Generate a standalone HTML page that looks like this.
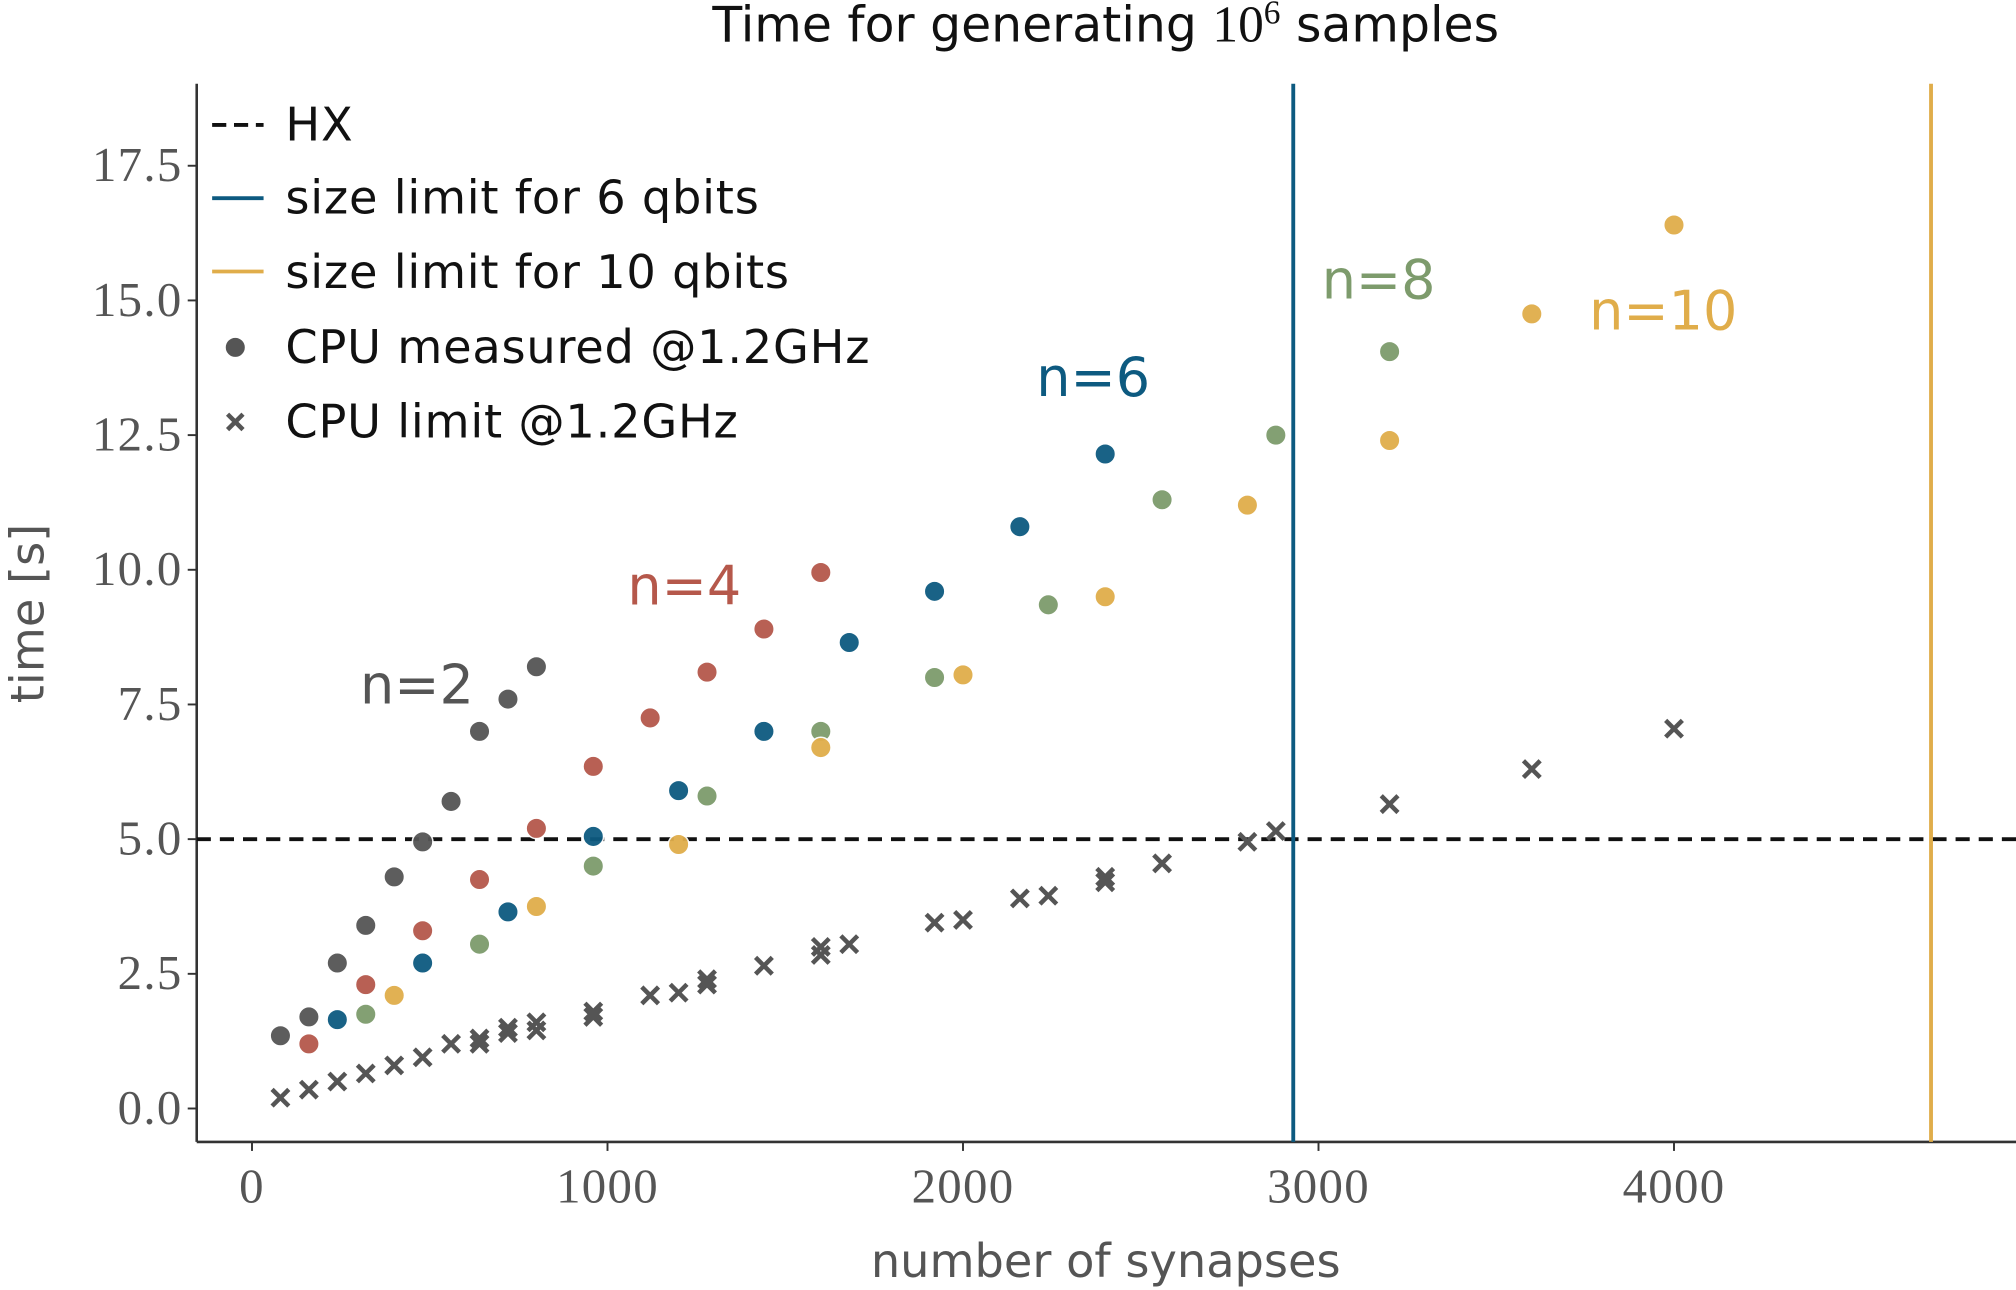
<!DOCTYPE html>
<html><head><meta charset="utf-8">
<style>
html,body{margin:0;padding:0;background:#fff;}
svg{display:block;}
.tick{font-family:"Liberation Serif",serif;font-size:38px;fill:#555;letter-spacing:1px;}
.lab{font-family:"DejaVu Sans","Liberation Sans",sans-serif;font-size:36px;fill:#555;}
.leg{font-family:"DejaVu Sans","Liberation Sans",sans-serif;font-size:36px;fill:#111;letter-spacing:0.6px;}
</style></head>
<body>
<svg id="chart" width="2016" height="1290" viewBox="0 0 1568 1003" xmlns="http://www.w3.org/2000/svg">
<g id="plot"></g>
</svg>
<script>
const xTicks=[0,1000,2000,3000,4000];
const yTicks=[0,2.5,5,7.5,10,12.5,15,17.5];
const yTickLabels=["0.0","2.5","5.0","7.5","10.0","12.5","15.0","17.5"];
const x2=[80,160,240,320,400,480,560,640,720,800];
const y2=[1.35,1.7,2.7,3.4,4.3,4.95,5.7,7.0,7.6,8.2];
const x4=[160,320,480,640,800,960,1120,1280,1440,1600];
const y4=[1.2,2.3,3.3,4.25,5.2,6.35,7.25,8.1,8.9,9.95];
const x6=[240,480,720,960,1200,1440,1680,1920,2160,2400];
const y6=[1.65,2.7,3.65,5.05,5.9,7.0,8.65,9.6,10.8,12.15];
const x8=[320,640,960,1280,1600,1920,2240,2560,2880,3200];
const y8=[1.75,3.05,4.5,5.8,7.0,8.0,9.35,11.3,12.5,14.05];
const x10=[400,800,1200,1600,2000,2400,2800,3200,3600,4000];
const y10=[2.1,3.75,4.9,6.7,8.05,9.5,11.2,12.4,14.75,16.4];
const xLim=[80,160,240,320,400,480,560,640,640,720,720,800,800,960,960,1120,1200,1280,1280,1440,1600,1600,1680,1920,2000,2160,2240,2400,2400,2560,2800,2880,3200,3600,4000];
const yLim=[0.2,0.35,0.5,0.65,0.8,0.95,1.2,1.2,1.3,1.4,1.5,1.45,1.6,1.7,1.8,2.1,2.15,2.3,2.4,2.65,2.85,3.0,3.05,3.45,3.5,3.9,3.95,4.2,4.3,4.55,4.95,5.15,5.65,6.3,7.05];
const hxLevel=5.0;
const limit6=2929, limit10=4723;

const X=v=>196+v*0.2765;
const Y=v=>862-v*41.9;
const NS="http://www.w3.org/2000/svg";
const g=document.getElementById('plot');
function mk(tag,attrs,parent){const e=document.createElementNS(NS,tag);for(const k in attrs)e.setAttribute(k,attrs[k]);(parent||g).appendChild(e);return e;}
function txt(s,attrs){const e=mk('text',attrs);e.textContent=s;return e;}

let e=mk('line',{x1:153,y1:65,x2:153,y2:888,stroke:'#333','stroke-width':2});


e=mk('line',{x1:153,y1:888,x2:1568,y2:888,stroke:'#333','stroke-width':2});


xTicks.forEach(v=>{
  mk('line',{x1:X(v),y1:888,x2:X(v),y2:895,stroke:'#333','stroke-width':1.5});
  e=txt(String(v),{x:X(v),y:935,'text-anchor':'middle',class:'tick'});
  
  
});
yTicks.forEach((v,i)=>{
  mk('line',{x1:146,y1:Y(v),x2:153,y2:Y(v),stroke:'#333','stroke-width':1.5});
  e=txt(yTickLabels[i],{x:142,y:Y(v)+12,'text-anchor':'end',class:'tick'});
  
  
});
e=txt('number of synapses',{x:860,y:993,'text-anchor':'middle',class:'lab'});


e=txt('time [s]',{x:0,y:0,'text-anchor':'middle',class:'lab',transform:'translate(34,477) rotate(-90)'});


e=mk('text',{x:860,y:32,'text-anchor':'middle',class:'lab',style:'fill:#111;font-size:38px'});
e.innerHTML='Time for generating <tspan font-family="Liberation Serif" font-size="40">10</tspan><tspan font-family="Liberation Serif" font-size="26" dy="-14">6</tspan><tspan dy="14"> samples</tspan>';



e=mk('line',{x1:153,y1:Y(hxLevel),x2:1568,y2:Y(hxLevel),stroke:'#111','stroke-width':3,'stroke-dasharray':'11,7'});


e=mk('line',{x1:X(limit6),y1:65,x2:X(limit6),y2:888,stroke:'#0d5a80','stroke-width':3});


e=mk('line',{x1:X(limit10),y1:65,x2:X(limit10),y2:888,stroke:'#e0ad4a','stroke-width':3});



xLim.forEach((v,i)=>{
  const cx=X(v),cy=Y(yLim[i]),s=6.5;
  const p=mk('path',{d:`M${cx-s},${cy-s}L${cx+s},${cy+s}M${cx-s},${cy+s}L${cx+s},${cy-s}`,stroke:'#555','stroke-width':3.5});
  
  
});
const series=[[x2,y2,'#555555','n2'],[x4,y4,'#b5584b','n4'],[x6,y6,'#0d5a80','n6'],[x8,y8,'#7d9b6c','n8'],[x10,y10,'#e0ad4a','n10']];
series.forEach(([xs,ys,c,n])=>{
  xs.forEach((v,i)=>{
    const ci=mk('circle',{cx:X(v),cy:Y(ys[i]),r:8,fill:c,stroke:'#fff','stroke-width':1.2,opacity:0.95});
    
    
  });
});
[['n=2',280,547,'#555'],['n=4',488,470,'#b5584b'],['n=6',806,308,'#0d5a80'],['n=8',1028,232,'#7d9b6c'],['n=10',1236,256,'#e0ad4a']].forEach(a=>{
  const t=txt(a[0],{x:a[1],y:a[2],class:'lab',style:'font-size:42px;fill:'+a[3]});
  
  
});
const lg=mk('g',{});


mk('line',{x1:165,y1:97,x2:205,y2:97,stroke:'#111','stroke-width':3,'stroke-dasharray':'11,6'},lg);
mk('line',{x1:165,y1:154,x2:205,y2:154,stroke:'#0d5a80','stroke-width':3},lg);
mk('line',{x1:165,y1:211,x2:205,y2:211,stroke:'#e0ad4a','stroke-width':3},lg);
mk('circle',{cx:183,cy:270,r:8,fill:'#555',stroke:'#fff','stroke-width':1.2},lg);
mk('path',{d:'M177,322L189,334M177,334L189,322',stroke:'#555','stroke-width':3.5},lg);
[['HX',109],['size limit for 6 qbits',166],['size limit for 10 qbits',224],['CPU measured @1.2GHz',282],['CPU limit @1.2GHz',340]].forEach(a=>{
  const t=mk('text',{x:222,y:a[1],class:'leg'},lg);t.textContent=a[0];
  
  
});
</script>
</body></html>
